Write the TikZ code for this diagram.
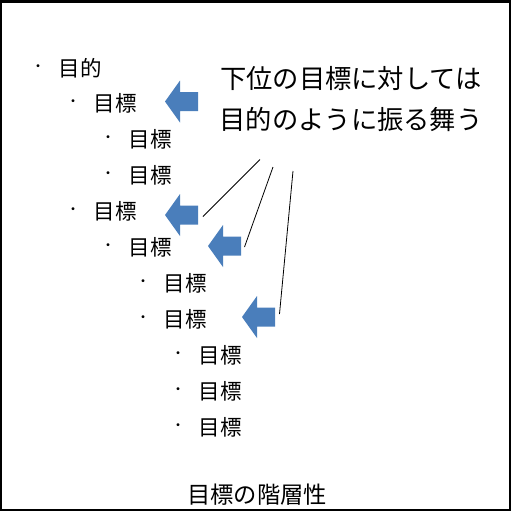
\documentclass[tikz,border=0pt]{standalone}
\usepackage{fontspec}
\setmainfont{Noto Sans CJK JP}
\definecolor{arrowblue}{HTML}{4A7EBB}
\tikzset{
  item/.style={anchor=west, inner sep=0pt, font=\fontsize{21.5}{24}\selectfont},
  bul/.style={anchor=center, inner sep=0pt, font=\fontsize{14}{16}\selectfont},
  callout/.style={align=center, inner sep=0pt, font=\fontsize{26.3}{41}\selectfont},
  titletext/.style={inner sep=0pt, font=\fontsize{23.3}{26}\selectfont},
  leader/.style={draw=black, line width=0.8pt},
  barrow/.style={fill=arrowblue}
}
\newcommand{\blockarrow}[3]{%
  \fill[barrow] (#1,#2) -- ++(15,-21) -- ++(0,11.5) -- ++(18,0) -- ++(0,19) -- ++(-18,0) -- ++(0,11.5) -- cycle;
  \coordinate (#3) at ($(#1,#2)+(33,0)$);}
\usetikzlibrary{calc}
\begin{document}
\begin{tikzpicture}[x=1pt,y=-1pt]
\useasboundingbox (0,0) rectangle (512,512);
\draw[line width=2.5pt] (1.2,1.5) rectangle (510,510);
% list
\node[item] (t1) at (58.5,68) {目的};   \node[bul] (b1) at (38,68) {・};
\node[item] (t2) at (93.5,103) {目標};  \node[bul] (b2) at (73,103) {・};
\node[item] (t3) at (128.5,139) {目標}; \node[bul] (b3) at (108,139) {・};
\node[item] (t4) at (128.5,175) {目標}; \node[bul] (b4) at (108,175) {・};
\node[item] (t5) at (93.5,211) {目標};  \node[bul] (b5) at (73,211) {・};
\node[item] (t6) at (128.5,247) {目標}; \node[bul] (b6) at (108,247) {・};
\node[item] (t7) at (163.5,283) {目標}; \node[bul] (b7) at (143,283) {・};
\node[item] (t8) at (163.5,319) {目標}; \node[bul] (b8) at (143,319) {・};
\node[item] (t9) at (198.5,355) {目標}; \node[bul] (b9) at (178,355) {・};
\node[item] (t10) at (198.5,391) {目標}; \node[bul] (b10) at (178,391) {・};
\node[item] (t11) at (198.5,427) {目標}; \node[bul] (b11) at (178,427) {・};
% arrows
\blockarrow{165}{101.5}{a1}
\blockarrow{165}{215}{a2}
\blockarrow{208}{246}{a3}
\blockarrow{242}{317}{a4}
% callout
\node[callout] (c) at (351,99.5) {下位の目標に対しては\\目的のように振る舞う};
\coordinate (s1) at (260,159.5);
\coordinate (s2) at (273,167);
\coordinate (s3) at (293,171);
\coordinate (e1) at (203,216.5);
\coordinate (e2) at (244.5,247);
\coordinate (e3) at (279.5,314);
\draw[leader] (s1) -- (e1);
\draw[leader] (s2) -- (e2);
\draw[leader] (s3) -- (e3);
% title
\node[titletext] (title) at (257,495) {目標の階層性};
\end{tikzpicture}
\end{document}
